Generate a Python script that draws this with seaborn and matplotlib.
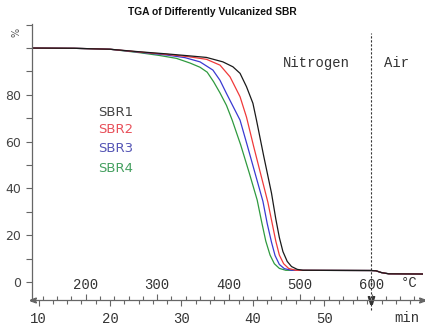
import numpy as np
import pandas as pd
import matplotlib
matplotlib.use("Agg")
import matplotlib.pyplot as plt
from matplotlib.ticker import MultipleLocator
import seaborn as sns

# ---- data ----
series_names = ["SBR1", "SBR2", "SBR3", "SBR4"]
series_colors = ["#1a1a1a", "#f03a3a", "#3a3ad2", "#2f9a3f"]
label_colors = ["#444444", "#e8505a", "#5555b5", "#45a060"]

time_sbr1 = [9.1, 15, 20, 24.2, 28, 31, 33.5, 35.8, 37.2, 38.2, 39.1, 40.0, 40.5, 41.5, 42.6, 43.2, 43.7, 44.2, 44.8, 45.4, 46.2, 47,
             56.5, 57.2, 58.0, 59.0, 63.8]
mass_sbr1 = [100, 99.9, 99.5, 98.4, 97.5, 96.7, 96.0, 94.1, 92, 89.2, 83.5, 76.4, 69.2, 54, 38, 27, 19, 13, 8.8, 6.6, 5.4, 5.0,
             4.9, 4.8, 4.0, 3.5, 3.4]

time_sbr2 = [9.1, 15, 20, 24.2, 28, 31, 33.5, 35.4, 36.8, 38.2, 39.1, 40.1, 41.1, 42.1, 42.7, 43.2, 43.7, 44.3, 45.0, 46.0,
             56.5, 57.2, 58.0, 59.0, 63.8]
mass_sbr2 = [100, 99.9, 99.5, 98.3, 97.3, 96.3, 95.2, 92.7, 87.7, 79.2, 70.5, 58, 46, 34, 25, 17.5, 11.5, 7.8, 5.8, 5.0,
             4.9, 4.8, 4.0, 3.5, 3.4]

time_sbr3 = [9.1, 15, 20, 24.2, 28, 30.5, 32.6, 34.4, 35.4, 36.3, 37.3, 38.2, 39.2, 40.3, 41.4, 42.0, 42.6, 43.1, 43.7, 44.4, 45.4,
             56.5, 57.2, 58.0, 59.0, 63.8]
mass_sbr3 = [100, 99.9, 99.5, 98.2, 97.0, 95.9, 94.1, 90.6, 86.2, 80.6, 74.6, 69.2, 58.5, 46.5, 34.5, 25, 17, 11.3, 7.5, 5.7, 5.0,
             4.9, 4.8, 4.0, 3.5, 3.4]

time_sbr4 = [9.1, 15, 20, 24.2, 27, 29.3, 31.2, 32.6, 33.6, 34.5, 35.4, 36.3, 37.1, 38.3, 39.5, 40.6, 41.2, 41.8, 42.4, 43.0, 43.7, 44.6,
             56.5, 57.2, 58.0, 59.0, 63.8]
mass_sbr4 = [100, 99.9, 99.5, 98.0, 96.8, 95.6, 93.6, 91.8, 89.7, 85.6, 80.8, 75.5, 69.2, 58.5, 46.5, 35, 26, 17.5, 11.5, 7.8, 5.8, 5.0,
             4.9, 4.8, 4.0, 3.5, 3.4]

y_ticks = [0, 20, 40, 60, 80]
x_ticks = [10, 20, 30, 40, 50]
temp_ticks = [200, 300, 400, 500, 600]
switch_time = 56.5

# ---- build long-form table ----
frames = []
for name, t, m in zip(series_names,
                      [time_sbr1, time_sbr2, time_sbr3, time_sbr4],
                      [mass_sbr1, mass_sbr2, mass_sbr3, mass_sbr4]):
    frames.append(pd.DataFrame({"time": t, "mass": m, "sample": name}))
df = pd.concat(frames, ignore_index=True)

sns.set_theme(style="white")
plt.rcParams["font.family"] = ["DejaVu Sans"]

fig = plt.figure(figsize=(4.25, 3.28), dpi=100)
ax = fig.add_axes([0.0753, 0.0854, 0.92, 0.8415])

# draw in reverse order so that SBR1 sits on top
sns.lineplot(data=df, x="time", y="mass", hue="sample",
             hue_order=series_names[::-1], palette=series_colors[::-1],
             estimator=None, sort=True, linewidth=0.9, legend=False, ax=ax)

ax.set_xlim(9.09, 63.8)
ax.set_ylim(-7.7, 110.3)
ax.set_xlabel("")
ax.set_ylabel("")

axis_col = "#666666"
mono = "Liberation Mono"

for s in ["top", "right"]:
    ax.spines[s].set_visible(False)
for s in ["left", "bottom"]:
    ax.spines[s].set_color(axis_col)
    ax.spines[s].set_linewidth(0.9)

# y axis ticks every 10, labels on 0..80
ax.set_yticks(np.arange(0, 111, 10))
ax.set_yticklabels([str(v) if v in y_ticks else "" for v in range(0, 111, 10)])
ax.tick_params(axis="y", left=True, direction="out", length=4, width=0.8,
               color=axis_col, labelsize=9, labelcolor="#444444", pad=4)

# time axis
ax.set_xticks(x_ticks)
ax.set_xticklabels([str(v) for v in x_ticks], fontfamily=mono)
ax.xaxis.set_minor_locator(MultipleLocator(2))
ax.tick_params(axis="x", which="major", bottom=True, direction="out", length=4,
               width=0.8, color=axis_col, labelsize=10, labelcolor="#333333", pad=5)
ax.tick_params(axis="x", which="minor", bottom=True, direction="out", length=3,
               width=0.8, color=axis_col)

# temperature axis on the same baseline, labels inside
sec = ax.secondary_xaxis(0.0, functions=(lambda t: 10 * np.asarray(t) + 34,
                                         lambda T: (np.asarray(T) - 34) / 10))
sec.xaxis.set_ticks_position("top")
sec.xaxis.set_label_position("top")
sec.set_xticks(temp_ticks)
sec.set_xticklabels([str(v) for v in temp_ticks], fontfamily=mono)
sec.xaxis.set_minor_locator(MultipleLocator(20))
sec.tick_params(axis="x", which="major", top=True, bottom=False, direction="out",
                length=4, width=0.8, color=axis_col, labelsize=10,
                labelcolor="#333333", pad=2)
sec.tick_params(axis="x", which="minor", top=True, bottom=False, direction="out",
                length=3, width=0.8, color=axis_col)
sec.spines["top"].set_visible(False)
sec.spines["bottom"].set_visible(False)

ax.text(0.99, -0.066, "min", transform=ax.transAxes, ha="right", va="center",
        fontsize=10, fontfamily=mono, color="#333333")
ax.text(0.985, 0.06, "°C", transform=ax.transAxes, ha="right", va="center",
        fontsize=10, fontfamily=mono, color="#333333")

# axis end marks
ax.plot([0.003], [0.0], marker="$<$", markersize=4, color=axis_col,
        transform=ax.transAxes, clip_on=False)
ax.plot([0.997], [0.0], marker="$>$", markersize=4, color=axis_col,
        transform=ax.transAxes, clip_on=False)
ax.plot([switch_time], [-7.7], marker="$\\vee$", markersize=5.5, color="#333333",
        clip_on=False)

# atmosphere switch
ax.vlines(switch_time, -12, 106.5, colors="#333333", linestyles=(0, (2, 1.6)),
          linewidth=0.8, clip_on=False)
ax.text(48.95, 93.6, "Nitrogen", ha="center", va="center", fontsize=10,
        fontfamily=mono, color="#333333")
ax.text(60.1, 93.6, "Air", ha="center", va="center", fontsize=10,
        fontfamily=mono, color="#333333")

# sample labels
for name, col, yv in zip(series_names, label_colors, [72.6, 65.0, 57.0, 48.7]):
    ax.text(18.3, yv, name, ha="left", va="center", fontsize=9.5, color=col)

# unit and title
fig.text(16 / 425, 1 - 32 / 328, "%", rotation=90, ha="center", va="center",
         fontsize=7, color="#555555")
fig.text(0.5, 1 - 12 / 328, "TGA of Differently Vulcanized SBR", ha="center",
         va="center", fontsize=7.4, fontweight="bold", fontfamily="Liberation Sans",
         color="#111111")

fig.savefig("out.png", dpi=100)
